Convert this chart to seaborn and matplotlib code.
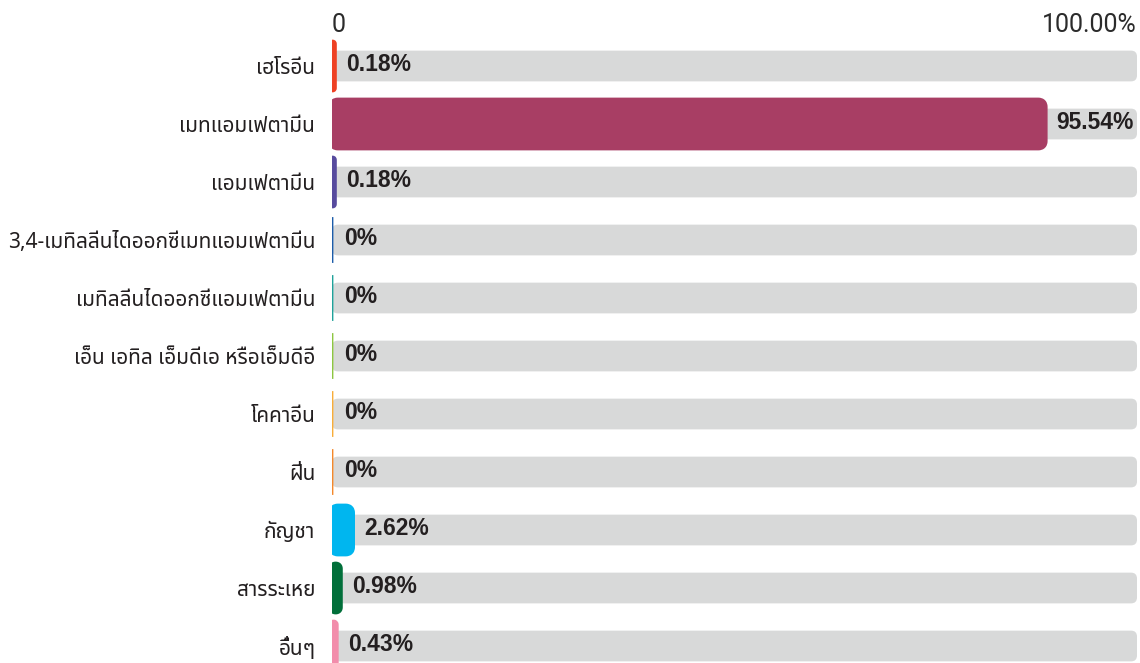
import pandas as pd
import seaborn as sns
import matplotlib
matplotlib.use("Agg")
import matplotlib.pyplot as plt
from matplotlib.patches import FancyBboxPatch

drugs = ["เฮโรอีน", "เมทแอมเฟตามีน", "แอมเฟตามีน", "3,4-เมทิลลีนไดออกซีเมทแอมเฟตามีน",
         "เมทิลลีนไดออกซีแอมเฟตามีน", "เอ็น เอทิล เอ็มดีเอ หรือเอ็มดีอี", "โคคาอีน", "ฝิ่น",
         "กัญชา", "สารระเหย", "อื่นๆ"]
shares = [0.18, 95.54, 0.18, 0, 0, 0, 0, 0, 2.62, 0.98, 0.43]
value_labels = ["0.18%", "95.54%", "0.18%", "0%", "0%", "0%", "0%", "0%", "2.62%", "0.98%", "0.43%"]
bar_colors = ["#ee4124", "#a83e64", "#574b9e", "#1c5ca9", "#1fa29a", "#8dc641",
              "#f8ad39", "#f4882b", "#00b6ef", "#016f3a", "#f28dab"]
tick_labels = ["0", "100.00%"]

scale_max = 108  # track length in data units
df = pd.DataFrame({"drug": drugs, "share": shares, "track": [scale_max] * len(drugs)})

sns.set_style("white")
plt.rcParams["font.family"] = ["Noto Sans Thai", "Noto Sans", "DejaVu Sans"]

fig = plt.figure(figsize=(11.4, 6.63), dpi=100)
ax = fig.add_axes([332 / 1140, 0, 805 / 1140, 626 / 663])

sns.barplot(data=df, x="track", y="drug", color="#d8d9d9", width=0.53, orient="h",
            saturation=1, ax=ax, zorder=1)
sns.barplot(data=df, x="share", y="drug", hue="drug", palette=bar_colors, width=0.79,
            orient="h", saturation=1, legend=False, ax=ax, zorder=2)

# rounded tracks / bars
px_x = 805 / scale_max
asp = (1 / 58) / (1 / px_x)
patches = list(ax.patches)
n = len(drugs)
for i, p in enumerate(patches):
    x, y = p.get_x(), p.get_y()
    w, h = p.get_width(), p.get_height()
    fc = p.get_facecolor()
    p.remove()
    if i < n:
        r, lw, z = 0.8, 0, 1
    else:
        v = shares[i - n]
        r = min(0.8, w / 2)
        lw = 5 if v > 0 else 2
        z = 2
    box = FancyBboxPatch((x, y), w, h, boxstyle=f"round,pad=0,rounding_size={r}",
                         mutation_aspect=asp, facecolor=fc, edgecolor=fc, linewidth=lw,
                         joinstyle="round", zorder=z)
    ax.add_patch(box)

for i, (v, lab) in enumerate(zip(shares, value_labels)):
    ax.annotate(lab, (v, i), xytext=(9, 1), textcoords="offset points", va="center",
                ha="left", fontsize=16.5, fontweight="bold", color="#231f20",
                family=["Liberation Sans", "DejaVu Sans"], zorder=3)

ax.set_xlim(0, scale_max)
ax.set_ylim(10.293, -0.5)
ax.xaxis.tick_top()
ax.set_xticks([0, scale_max])
ax.set_xticklabels(tick_labels, fontsize=18, color="#2b2b2b",
                   family=["Roboto", "DejaVu Sans"], fontweight="normal")
xl = ax.get_xticklabels()
xl[0].set_ha("left")
xl[1].set_ha("right")
ax.tick_params(axis="x", length=0, pad=0)
ax.tick_params(axis="y", length=0, pad=12, labelsize=15, labelcolor="#231f20")
ax.set_xlabel("")
ax.set_ylabel("")
sns.despine(ax=ax, left=True, bottom=True, top=True, right=True)

fig.savefig("out.png", dpi=100)
